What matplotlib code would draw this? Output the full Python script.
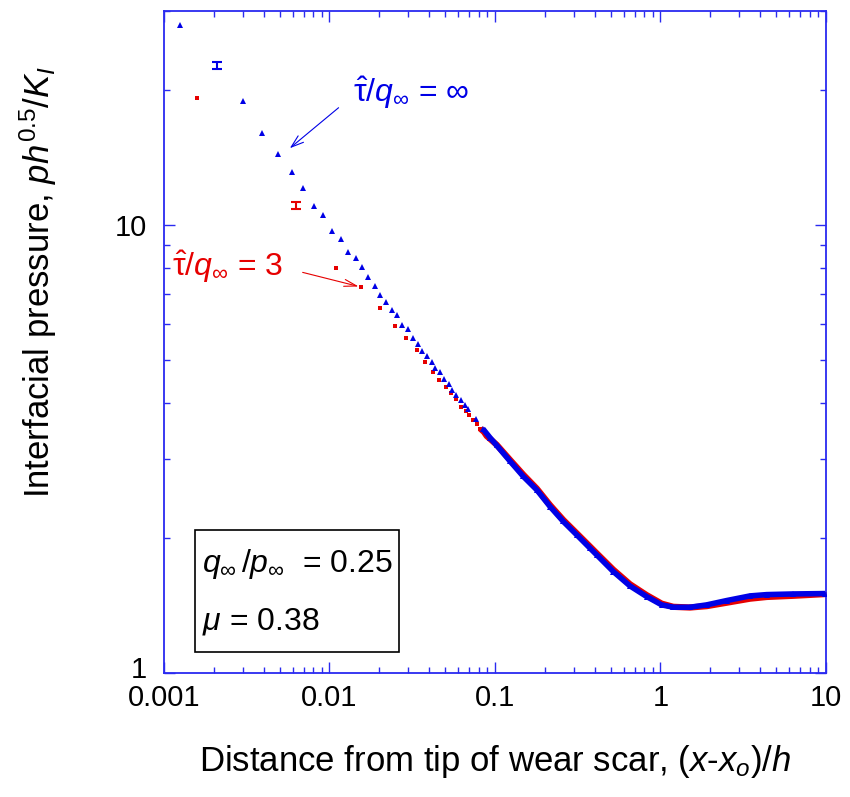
import numpy as np
import matplotlib
matplotlib.use("Agg")
import matplotlib.pyplot as plt
import matplotlib.transforms as mtransforms
from matplotlib.patches import Rectangle

FAM = "Liberation Sans"
plt.rcParams['font.family'] = [FAM, 'DejaVu Sans']
plt.rcParams['mathtext.fontset'] = 'custom'
plt.rcParams['mathtext.rm'] = FAM
plt.rcParams['mathtext.it'] = FAM + ':italic'
plt.rcParams['mathtext.bf'] = FAM + ':bold'
plt.rcParams['mathtext.sf'] = FAM

# ---- data ----
blue_x = [0.00125, 0.00299, 0.00393, 0.0049, 0.0059, 0.00689, 0.00803, 0.00917, 0.01035, 0.01169,
          0.01299, 0.0144, 0.01565, 0.0171, 0.0189, 0.0202, 0.02195, 0.02396, 0.02558, 0.02742,
          0.02981, 0.03195, 0.03424, 0.0361, 0.0387, 0.0414, 0.0436, 0.0465, 0.0490, 0.0525,
          0.0552, 0.0581, 0.0623, 0.0656, 0.0690, 0.0764, 0.0843, 0.0933,
          0.1024, 0.1232, 0.1483, 0.1787, 0.215, 0.2587, 0.3117, 0.375, 0.4116, 0.5187,
          0.654, 0.825, 1.017, 1.195, 1.507, 1.902, 2.512, 3.474, 4.383, 6.345, 9.86]
blue_y = [27.9, 18.9, 16.03, 14.39, 13.09, 12.06, 10.99, 10.51, 9.68, 9.32,
          8.71, 8.43, 8.06, 7.66, 7.30, 6.97, 6.71, 6.46, 6.30, 5.99,
          5.87, 5.58, 5.43, 5.24, 5.11, 4.95, 4.80, 4.69, 4.54, 4.42,
          4.29, 4.18, 4.07, 3.97, 3.88, 3.68, 3.51, 3.35,
          3.22, 2.97, 2.745, 2.563, 2.352, 2.178, 2.034, 1.899, 1.835, 1.684,
          1.564, 1.481, 1.419, 1.402, 1.402, 1.419, 1.451, 1.486, 1.496, 1.501, 1.504]

red_x = [0.00158, 0.0109, 0.01557, 0.0201, 0.0248, 0.02887, 0.03364, 0.0379, 0.0420, 0.0457,
         0.0506, 0.0542, 0.0581, 0.0623, 0.0665, 0.0699, 0.0736, 0.0775, 0.0815, 0.0858, 0.0891,
         0.1024, 0.1232, 0.1483, 0.1787, 0.215, 0.2587, 0.3117, 0.375, 0.4116, 0.5187,
         0.654, 0.825, 1.017, 1.195, 1.507, 1.902, 2.512, 3.474, 4.383, 6.345, 9.86]
red_y = [19.16, 8.02, 7.26, 6.51, 5.96, 5.59, 5.25, 4.93, 4.69, 4.51,
         4.34, 4.21, 4.08, 3.93, 3.85, 3.76, 3.67, 3.59, 3.51, 3.45, 3.38,
         3.23, 2.99, 2.77, 2.58, 2.37, 2.195, 2.05, 1.915, 1.85, 1.70,
         1.578, 1.492, 1.428, 1.405, 1.400, 1.41, 1.435, 1.465, 1.478, 1.487, 1.50]

blue_err_x = [0.0021]
blue_err_y = [22.7]
blue_err = [0.4]
red_err_x = [0.00628]
red_err_y = [11.07]
red_err = [0.2]

x_ticks = [0.001, 0.01, 0.1, 1, 10]
x_ticklabels = ["0.001", "0.01", "0.1", "1", "10"]
y_ticks = [1, 10]
y_ticklabels = ["1", "10"]

BLUE = '#0000e6'
RED = '#e60000'
AX = '#2a2af0'

fig = plt.figure(figsize=(8.5, 7.97), dpi=100)
ax = fig.add_axes([164/850, 1-673/797, (826-164)/850, (673-11)/797])
ax.set_xscale('log')
ax.set_yscale('log')
ax.set_xlim(0.001, 10)
ax.set_ylim(1, 30)

bx = np.array(blue_x); by = np.array(blue_y)
rx = np.array(red_x); ry = np.array(red_y)
dense_b = bx >= 0.08
dense_r = rx >= 0.08

ax.plot(rx[dense_r], ry[dense_r], '-', color=RED, lw=4.5, solid_capstyle='butt', zorder=2)
ax.plot(rx, ry, 's', color=RED, ms=3.4, mew=0, zorder=2)
ax.plot(bx[dense_b], by[dense_b], '-', color=BLUE, lw=4.0, solid_capstyle='butt', zorder=3)
ax.plot(bx, by, '^', color=BLUE, ms=4.2, mew=0, zorder=3)

ax.errorbar(blue_err_x, blue_err_y, yerr=blue_err, fmt='none', ecolor=BLUE,
            elinewidth=1.5, capsize=3.5, capthick=1.5, zorder=3)
ax.errorbar(red_err_x, red_err_y, yerr=red_err, fmt='none', ecolor=RED,
            elinewidth=1.5, capsize=3.5, capthick=1.5, zorder=3)

# ticks / spines
for s in ax.spines.values():
    s.set_color(AX)
    s.set_linewidth(1.3)
ax.tick_params(which='both', direction='in', top=True, right=True, colors=AX,
               labelcolor='black')
ax.tick_params(which='major', length=8, width=1.0, labelsize=21)
ax.tick_params(which='minor', length=4, width=1.0)
ax.tick_params(axis='x', which='major', pad=8)
ax.tick_params(axis='y', which='major', pad=12)
ax.set_xticks(x_ticks)
ax.set_xticklabels(x_ticklabels)
ax.set_yticks(y_ticks)
ax.set_yticklabels(y_ticklabels)
ax.yaxis.set_minor_locator(matplotlib.ticker.LogLocator(base=10, subs=np.arange(2, 10)))
ax.yaxis.set_minor_formatter(matplotlib.ticker.NullFormatter())
ax.xaxis.set_minor_locator(matplotlib.ticker.LogLocator(base=10, subs=np.arange(2, 10)))
ax.xaxis.set_minor_formatter(matplotlib.ticker.NullFormatter())
# nudge the "1" label up slightly, as in the reference
lab1 = ax.get_yticklabels()[0]
lab1.set_transform(lab1.get_transform() + mtransforms.ScaledTranslation(0, 6/100, fig.dpi_scale_trans))

ax.set_xlabel(r'Distance from tip of wear scar, ($x$-$x_{o}$)/$h$', fontsize=25)
ax.xaxis.set_label_coords(0.5, -0.105)
ax.set_ylabel(r'Interfacial pressure, $ph^{\mathrm{0.5}}/K_{I}$', fontsize=25)
ax.yaxis.set_label_coords(-0.158, 0.59)

# annotations
ax.text(0.0139, 18.77, r'$\hat{\mathrm{\tau}}/q_{\infty}$ = ∞', color=BLUE, fontsize=23,
        ha='left', va='baseline')
ax.annotate('', xy=(0.00559, 14.69), xytext=(0.01169, 18.42),
            arrowprops=dict(arrowstyle='->,head_length=0.9,head_width=0.3', color=BLUE, lw=0.8))
ax.text(0.00112, 7.67, r'$\hat{\mathrm{\tau}}/q_{\infty}$ = 3', color=RED, fontsize=23,
        ha='left', va='baseline')
ax.annotate('', xy=(red_x[2], red_y[2]), xytext=(0.00663, 7.86),
            arrowprops=dict(arrowstyle='->,head_length=0.9,head_width=0.25', color=RED, lw=0.8))

# parameter box
ax.add_patch(Rectangle((0.0464, 0.0322), 0.3545-0.0464, 0.216-0.0322, transform=ax.transAxes,
                       fill=False, edgecolor='black', lw=1.2, zorder=4))
ax.text(0.058, 0.165, r'$q_{\infty}\,/p_{\infty}$  = 0.25', transform=ax.transAxes, fontsize=23,
        ha='left', va='center')
ax.text(0.058, 0.078, r'$\mu$ = 0.38', transform=ax.transAxes, fontsize=23,
        ha='left', va='center')

fig.savefig('out.png', dpi=100)
